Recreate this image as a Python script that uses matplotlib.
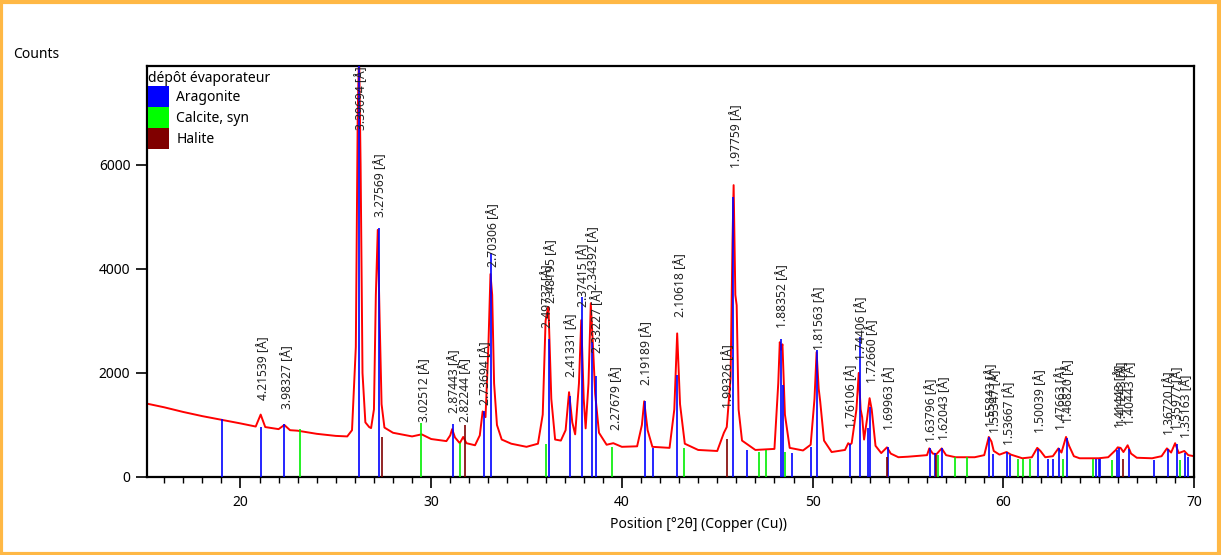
import numpy as np
import matplotlib
matplotlib.use("Agg")
import matplotlib.pyplot as plt
from matplotlib.patches import Patch, Rectangle
from matplotlib.ticker import MultipleLocator

plt.rcParams['font.family'] = ['Noto Sans', 'DejaVu Sans']

profile_2theta = [15.1, 16, 17, 18, 19, 20, 20.8, 21.06, 21.3, 22.0, 22.3, 22.6, 23, 24, 25, 25.6,
                  25.85, 26.05, 26.15, 26.22, 26.30, 26.4, 26.55, 26.75, 26.85, 27.0, 27.1, 27.2,
                  27.3, 27.4, 27.55, 28, 29, 29.5, 30, 30.8, 31.0, 31.1, 31.25, 31.5, 31.68, 31.85,
                  32.3, 32.55, 32.7, 32.85, 33.0, 33.11, 33.2, 33.3, 33.45, 33.7, 34.2, 35.0, 35.6,
                  35.85, 36.0, 36.07, 36.15, 36.3, 36.5, 36.8, 37.05, 37.23, 37.4, 37.55, 37.75,
                  37.87, 38.0, 38.1, 38.25, 38.37, 38.5, 38.6, 38.8, 39.2, 39.55, 40.0, 40.8, 41.05,
                  41.17, 41.35, 41.6, 42.5, 42.75, 42.9, 43.05, 43.3, 44, 45, 45.35, 45.5, 45.7,
                  45.8, 45.86, 45.95, 46.02, 46.12, 46.3, 47, 48.0, 48.2, 48.28, 48.35, 48.42, 48.55,
                  48.8, 49.5, 49.9, 50.1, 50.21, 50.32, 50.4, 50.6, 51.0, 51.7, 51.87, 51.96, 52.05,
                  52.3, 52.42, 52.52, 52.6, 52.7, 52.85, 52.99, 53.1, 53.3, 53.6, 53.9, 54.1, 54.5,
                  55, 56.0, 56.12, 56.3, 56.5, 56.77, 57.0, 57.5, 58.5, 59.0, 59.24, 59.38, 59.5,
                  59.8, 60.17, 60.4, 61.0, 61.5, 61.78, 61.95, 62.2, 62.6, 62.89, 63.05, 63.29,
                  63.45, 63.7, 64.0, 65.0, 65.5, 65.9, 66.0, 66.15, 66.3, 66.52, 66.7, 67.0, 67.8,
                  68.3, 68.58, 68.8, 69.01, 69.2, 69.49, 69.7, 70.0]
profile_counts = [1410, 1340, 1250, 1170, 1100, 1030, 970, 1200, 960, 920, 1000, 900, 890, 830, 790, 780,
                  900, 2500, 7000, 8200, 6000, 2000, 1050, 960, 940, 1300, 3500, 4750,
                  3000, 1400, 950, 850, 780, 820, 730, 690, 800, 920, 760, 650, 770, 650,
                  610, 800, 1260, 1150, 2500, 3900, 3500, 1800, 1000, 720, 640, 580, 640,
                  1200, 3000, 3150, 3270, 1500, 720, 700, 900, 1630, 1050, 820, 1800,
                  3015, 1500, 935, 1800, 3340, 2400, 1600, 850, 620, 650, 580, 590, 1000,
                  1455, 900, 580, 560, 1300, 2760, 1400, 640, 520, 500, 850, 960, 1900,
                  4500, 5610, 3500, 3300, 1300, 700, 520, 540, 1800, 2590, 2450, 2550, 1200,
                  560, 510, 620, 1500, 2400, 1700, 1450, 700, 480, 520, 650, 620, 650,
                  1300, 2000, 1300, 1150, 720, 1100, 1515, 1300, 600, 460, 570, 450, 380,
                  390, 420, 550, 450, 440, 550, 420, 380, 380, 420, 770, 680, 500,
                  430, 480, 430, 360, 380, 560, 500, 380, 400, 550, 470, 770,
                  600, 400, 360, 360, 380, 520, 570, 560, 480, 610, 450, 370, 360,
                  400, 550, 470, 650, 460, 500, 420, 400]

# reference patterns (stick positions and heights)
aragonite_2theta = [19.04, 21.08, 22.30, 26.24, 27.25, 31.14, 32.78, 33.15, 36.16, 37.30, 37.91,
                    38.44, 38.62, 41.20, 41.64, 42.90, 45.84, 46.56, 48.32, 48.46, 48.90, 49.90,
                    50.25, 51.94, 52.48, 52.90, 53.01, 53.98, 56.15, 56.42, 56.81, 59.25, 59.46,
                    60.22, 60.36, 61.83, 62.35, 62.63, 62.91, 63.33, 64.86, 65.00, 65.08, 65.94,
                    66.08, 66.57, 67.92, 68.66, 69.10, 69.55, 69.71]
aragonite_counts = [1110, 955, 1015, 8000, 4780, 1015, 1270, 4300, 2650, 1550, 3460,
                    2600, 1935, 1455, 560, 1955, 5385, 515, 2660, 1765, 470, 580,
                    2435, 640, 2690, 945, 1350, 570, 565, 455, 550, 770, 450,
                    480, 417, 545, 354, 350, 548, 757, 354, 354, 354, 513,
                    565, 545, 320, 545, 640, 462, 385]
calcite_2theta = [23.12, 29.47, 31.52, 36.02, 39.49, 43.25, 47.18, 47.55, 48.58, 56.60, 57.47,
                  58.12, 60.75, 61.01, 61.41, 63.14, 64.73, 65.68, 69.29]
calcite_counts = [915, 1040, 648, 630, 580, 560, 490, 513, 480, 417, 385,
                  385, 354, 354, 354, 340, 340, 320, 320]
halite_2theta = [27.41, 31.75, 45.49, 53.89, 56.49, 66.26]
halite_counts = [765, 990, 725, 380, 417, 354]

# d-spacing labels and the count level where each label starts
peak_d = ["4.21539", "3.98327", "3.39694", "3.27569", "3.02512", "2.87443", "2.82244", "2.73694",
          "2.70306", "2.49737", "2.48195", "2.41331", "2.37415", "2.34392", "2.33227", "2.27679",
          "2.19189", "2.10618", "1.99326", "1.97759", "1.88352", "1.81563", "1.76106", "1.74406",
          "1.72660", "1.69963", "1.63796", "1.62043", "1.55843", "1.55347", "1.53667", "1.50039",
          "1.47663", "1.46820", "1.41443", "1.41243", "1.40443", "1.36720", "1.35977", "1.35163"]
peak_label_counts = [1475, 1300, 6670, 4990, 1050, 1225, 1050, 1380,
                     4035, 2860, 3340, 1920, 3265, 3590, 2380, 900,
                     1765, 3075, 1320, 5935, 2860, 2435, 935, 2245,
                     1800, 900, 675, 705, 960, 840, 610, 840,
                     900, 1030, 935, 990, 990, 800, 900, 745]

wavelength = 1.5406  # Cu K-alpha1
peak_2theta = 2 * np.degrees(np.arcsin(wavelength / (2 * np.array(peak_d, dtype=float))))

fig = plt.figure(figsize=(12.21, 5.55), dpi=100)
ax = fig.add_axes([147 / 1221, 1 - 477 / 555, 1047 / 1221, 411 / 555])

ax.plot(profile_2theta, profile_counts, color='#ff0000', lw=1.4, zorder=2)
ax.vlines(aragonite_2theta, 0, aragonite_counts, colors='#0000ff', lw=1.2, zorder=3)
ax.vlines(calcite_2theta, 0, calcite_counts, colors='#00ee00', lw=1.2, zorder=3)
ax.vlines(halite_2theta, 0, halite_counts, colors='#800000', lw=1.2, zorder=3)

for d, x, y in zip(peak_d, peak_2theta, peak_label_counts):
    ax.annotate(d + " [Å]", (x, y), xytext=(2, 0), textcoords='offset points',
                rotation=90, ha='center', va='bottom', fontsize=8.7, color='#222222', zorder=4)

ax.set_xlim(15.1, 70.0)
ax.set_ylim(0, 7900)
ax.xaxis.set_major_locator(MultipleLocator(10))
ax.xaxis.set_minor_locator(MultipleLocator(1))
ax.yaxis.set_major_locator(MultipleLocator(2000))
ax.tick_params(axis='x', which='major', length=8, width=1.2, labelsize=10, pad=5)
ax.tick_params(axis='x', which='minor', length=4, width=1.0)
ax.tick_params(axis='y', which='major', length=8, width=1.2, labelsize=10, pad=4)
for s in ax.spines.values():
    s.set_linewidth(1.6)

ax.set_xlabel("Position [°2θ] (Copper (Cu))", fontsize=10)
ax.xaxis.set_label_coords((698 - 147) / 1047, -0.098)
fig.text(13 / 1221, 1 - 55 / 555, "Counts", fontsize=10, ha='left', va='center')

handles = [Patch(facecolor='#0000ff', edgecolor='none', label='Aragonite'),
           Patch(facecolor='#00ff00', edgecolor='none', label='Calcite, syn'),
           Patch(facecolor='#800000', edgecolor='none', label='Halite')]
leg = ax.legend(handles=handles, title="dépôt évaporateur", loc='upper left', frameon=False,
                fontsize=10, title_fontsize=10, handlelength=1.45, handleheight=1.95,
                labelspacing=0, handletextpad=0.55, borderpad=0.1, borderaxespad=0.0,
                bbox_to_anchor=(0.0, 1 - 4 / 411), alignment='left')
leg.set_zorder(5)

fig.patches.append(Rectangle((0.001, 0.002), 0.997, 0.995, transform=fig.transFigure, fill=False,
                             edgecolor='#ffb845', linewidth=3))

fig.savefig("out.png", dpi=100)
